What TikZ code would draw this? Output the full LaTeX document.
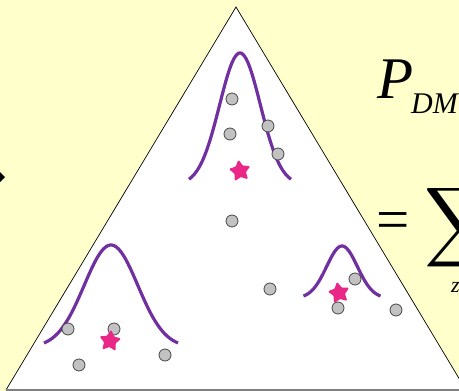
\documentclass[tikz,border=0pt]{standalone}
\usepackage{fontspec}
\setmainfont{Liberation Serif}
\usetikzlibrary{shapes.geometric}

\definecolor{slidebg}{RGB}{255,255,204}
\definecolor{curvepurple}{RGB}{112,48,160}
\definecolor{blobpink}{RGB}{233,39,135}
\definecolor{ptfill}{RGB}{194,194,194}
\definecolor{ptedge}{RGB}{70,70,70}

\begin{document}
\begin{tikzpicture}[x=1pt,y=-1pt,
  gauss/.style={line width=3.2pt, curvepurple},
  datapt/.style={circle, draw=ptedge, fill=ptfill, line width=0.8pt,
    minimum size=12pt, inner sep=0pt},
  blob/.style={star, star points=5, star point ratio=1.9, fill=blobpink,
    draw=blobpink, line width=1pt, rounded corners=0.8pt,
    minimum size=21pt, inner sep=0pt}]
  \useasboundingbox (0,0) rectangle (459,391);
  \fill[slidebg] (0,0) rectangle (459,391);

  % simplex
  \coordinate (apex) at (236,7);
  \coordinate (left) at (6,390);
  \coordinate (right) at (466,390);
  \fill[white] (left) -- (apex) -- (right) -- cycle;
  \draw[line width=0.7pt] (left) -- (apex) -- (right);
  \draw[gray, line width=1.3pt] (left) -- (right);

  % arrow tip at the left edge
  \fill (0,172) -- (5,177) -- (0,182) -- cycle;

  % topic curves: centre / base / height / half width
  \foreach \mx/\by/\h/\w in {240/185/132/51, 111/347.5/102.5/67, 342/298.3/52.3/38.5}
    \draw[gauss, domain=-\w:\w, samples=60, smooth]
      plot ({\mx+\x}, {\by-\h*exp(-(\x)^2/(2*(\w/2.5)^2))});

  % documents
  \foreach \px/\py [count=\i] in {232/99, 230/134, 268/126, 278/154, 232/221,
      68/329, 114/329, 79/365, 165/355,
      270/289, 355/279, 338/308, 396/310}
    \node[datapt] (d\i) at (\px,\py) {};

  % topic means
  \node[blob, rotate=8] (m1) at (240,171) {};
  \node[blob, rotate=-6] (m2) at (110,341) {};
  \node[blob, rotate=10] (m3) at (339,293) {};

  % formula
  \node[anchor=base west, inner sep=0pt, font=\fontsize{59}{60}\selectfont\itshape]
    (pdm) at (377,98) {P};
  \node[anchor=base west, inner sep=0pt, font=\fontsize{30}{32}\selectfont\itshape]
    (sub) at (411,113) {DM};
  \node[anchor=base west, inner sep=0pt, font=\fontsize{59}{60}\selectfont]
    (eq) at (376,239) {=};
  \node[anchor=north west, inner sep=0pt]
    (sum) at (424,183) {\scalebox{5.6}{$\displaystyle\sum$}};
  \node[anchor=base west, inner sep=0pt, font=\fontsize{22}{24}\selectfont\itshape]
    (z) at (451,292) {z};
\end{tikzpicture}
\end{document}
